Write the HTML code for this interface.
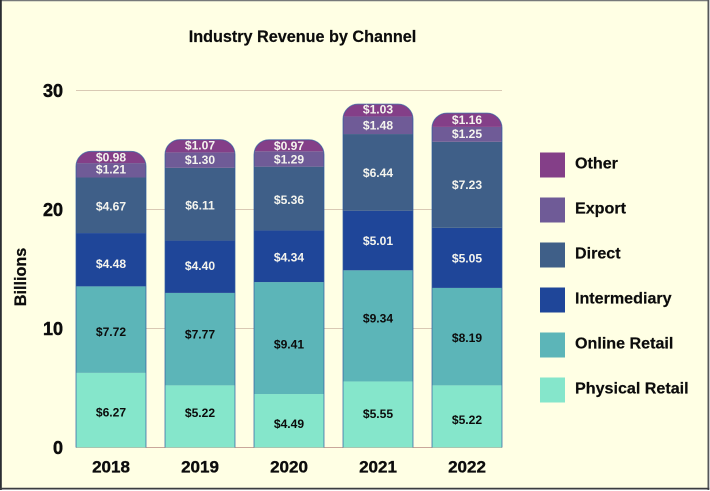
<!DOCTYPE html>
<html>
<head>
<meta charset="utf-8">
<style>
html,body{margin:0;padding:0;background:#ffffff;}
svg{display:block;font-family:"Liberation Sans",sans-serif;font-weight:bold;}
</style>
</head>
<body>
<svg id="chart" width="710" height="491" viewBox="0 0 710 491" xmlns="http://www.w3.org/2000/svg">
<defs id="chart-defs"></defs>
<rect x="0" y="0" width="708.5" height="488.5" fill="#ffffe4"/>
<path d="M0 0.6H709" fill="none" stroke="#77797a" stroke-width="1.2"/>
<path d="M0.9 0V490" fill="none" stroke="#2b2e33" stroke-width="1.8"/>
<path d="M708.4 0V490" fill="none" stroke="#55575a" stroke-width="1.8"/>
<path d="M0 488.6H709.3" fill="none" stroke="#3b3d41" stroke-width="1.8"/>
<text x="302.5" y="42" font-size="16.2" text-anchor="middle" fill="#0c0c0c" stroke="#0c0c0c" stroke-width="0.2">Industry Revenue by Channel</text>
<text transform="translate(26,277) rotate(-90)" font-size="16.2" text-anchor="middle" fill="#0c0c0c" stroke="#0c0c0c" stroke-width="0.25">Billions</text>
</svg>
<script>
const years = ['2018', '2019', '2020', '2021', '2022'];
const yTicks = [0, 10, 20, 30];
const physicalRetail = [6.27, 5.22, 4.49, 5.55, 5.22];
const onlineRetail = [7.27, 7.77, 9.41, 9.34, 8.19];
const intermediary = [4.48, 4.40, 4.34, 5.01, 5.05];
const direct = [4.67, 6.11, 5.36, 6.44, 7.23];
const exportSales = [1.21, 1.30, 1.29, 1.48, 1.25];
const other = [0.98, 1.07, 0.97, 1.03, 1.16];
const seriesNames = ['Physical Retail', 'Online Retail', 'Intermediary', 'Direct', 'Export', 'Other'];
const seriesValues = [physicalRetail, onlineRetail, intermediary, direct, exportSales, other];
/* The reference prints $7.72 on a segment drawn about 7.27 tall. */
const printedOverrides = { 'Online Retail|2018': '$7.72' };

const seriesColors = ['#85e6cb', '#5cb5b8', '#1f4699', '#3f5f88', '#6f5b97', '#843f88'];
const labelColors = ['#0c0c0c', '#0c0c0c', '#f4f4ee', '#f4f4ee', '#f4f4ee', '#f4f4ee'];

const svg = document.getElementById('chart');
const defs = document.getElementById('chart-defs');
const NS = 'http://www.w3.org/2000/svg';
const plot = { left: 76, right: 502, top: 90.5, bottom: 447.5, max: 30 };
const barWidth = 70;
const barStep = 89;
const radius = 15;
/* Layout only: the reference's hand-placed label nudges, in px, by series then year. */
const labelNudge = [
  [2, -4, 3, -1, 3],
  [2, -5, 6, -8, 1],
  [4, -1, 1, 0, 0],
  [1, 1, 1, 0, 0],
  [-1, -0.5, 0, 0, -1],
  [0, -1, 0, -1, -0.5]
];

function yScale(v) {
  return plot.bottom - (v / plot.max) * (plot.bottom - plot.top);
}
function xScale(i) {
  return plot.left + i * barStep;
}
function make(tag, attrs, text, parent) {
  const el = document.createElementNS(NS, tag);
  for (const k in attrs) el.setAttribute(k, attrs[k]);
  if (text !== undefined && text !== null) el.textContent = text;
  (parent || svg).appendChild(el);
  return el;
}
function slug(s) {
  return s.toLowerCase().replace(/\s+/g, '-');
}
function barShape(x, top) {
  return 'M' + x + ' ' + plot.bottom + 'V' + (top + radius) + 'A' + radius + ' ' + radius + ' 0 0 1 ' + (x + radius) + ' ' + top +
    'H' + (x + barWidth - radius) + 'A' + radius + ' ' + radius + ' 0 0 1 ' + (x + barWidth) + ' ' + (top + radius) + 'V' + plot.bottom;
}

yTicks.forEach(function (t) {
  const y = yScale(t);
  const line = make('line', { x1: plot.left, x2: plot.right, y1: y, y2: y, stroke: t === 0 ? '#c9a79a' : '#d9c9b4', 'stroke-width': 1 });
  
  
  const label = make('text', { x: 63, y: y + 6.5, 'font-size': 18, 'text-anchor': 'end', fill: '#0c0c0c', stroke: '#0c0c0c', 'stroke-width': 0.45 }, String(t));
  
  
});

years.forEach(function (year, i) {
  const x = xScale(i);
  let total = 0;
  seriesValues.forEach(function (values) { total += values[i]; });
  const top = yScale(total);
  const clip = make('clipPath', { id: 'clip-' + year }, null, defs);
  make('path', { d: barShape(x, top) + 'Z' }, null, clip);

  let base = 0;
  seriesValues.forEach(function (values, s) {
    const v = values[i];
    const y0 = yScale(base);
    const y1 = yScale(base + v);
    const seg = make('rect', { x: x, y: y1, width: barWidth, height: y0 - y1, fill: seriesColors[s], 'clip-path': 'url(#clip-' + year + ')' });
    
    
    base += v;
  });

  const outline = make('path', { d: barShape(x, top), fill: 'none', stroke: '#2d5a9e', 'stroke-width': 1, 'stroke-opacity': 0.7 });
  
  

  base = 0;
  seriesValues.forEach(function (values, s) {
    const v = values[i];
    const mid = yScale(base + v / 2) + labelNudge[s][i];
    const key = seriesNames[s] + '|' + year;
    const printed = printedOverrides[key] || ('$' + v.toFixed(2));
    const lab = make('text', { x: x + barWidth / 2, y: mid + 4.4, 'font-size': 12.1, 'text-anchor': 'middle', fill: labelColors[s] }, printed);
    
    
    base += v;
  });

  const tick = make('text', { x: x + barWidth / 2, y: 472.5, 'font-size': 17, 'text-anchor': 'middle', fill: '#0c0c0c', stroke: '#0c0c0c', 'stroke-width': 0.35 }, year);
  
  
});

seriesNames.slice().reverse().forEach(function (name, i) {
  const color = seriesColors[seriesNames.length - 1 - i];
  const y = 152.5 + i * 45;
  const swatch = make('rect', { x: 540, y: y, width: 25, height: 25, fill: color });
  
  
  const label = make('text', { x: 575, y: y + 16, 'font-size': 16.1, fill: '#0c0c0c', stroke: '#0c0c0c', 'stroke-width': 0.2 }, name);
  
  
});
</script>
</body>
</html>
